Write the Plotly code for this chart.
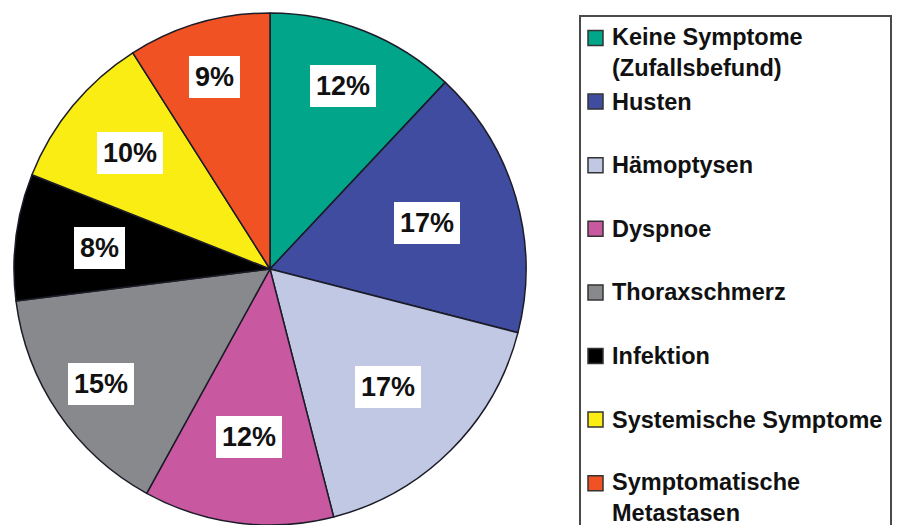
import math
import plotly.graph_objects as go

# ---- data ----
categories = [
    "Keine Symptome<br>(Zufallsbefund)",
    "Husten",
    "Hämoptysen",
    "Dyspnoe",
    "Thoraxschmerz",
    "Infektion",
    "Systemische Symptome",
    "Symptomatische<br>Metastasen",
]
values = [12, 17, 17, 12, 15, 8, 10, 9]
colors = ["#00a58a", "#3f4ca0", "#c0c8e4", "#c858a0", "#88898d", "#000000", "#faed14", "#f05224"]

# ---- styling / layout ----
W, H = 898, 525
label_rfrac = [0.77, 0.64, 0.65, 0.66, 0.80, 0.67, 0.71, 0.78]
FONT = "Liberation Sans, Arial, Helvetica, sans-serif"

# pie geometry in pixels
px0, px1 = 14, 526
py0, py1 = 13, 525
cx, cy = (px0 + px1) / 2, (py0 + py1) / 2
R = (px1 - px0) / 2

fig = go.Figure()
fig.add_trace(go.Pie(
    labels=categories,
    values=values,
    sort=False,
    direction="clockwise",
    rotation=0,
    textinfo="none",
    marker=dict(colors=colors, line=dict(color="#1c1c28", width=1.5)),
    showlegend=False,
    domain=dict(x=[px0 / W, px1 / W], y=[1 - py1 / H, 1 - py0 / H]),
    hoverinfo="label+percent",
))

annotations = []
shapes = []

# percentage labels in white boxes, positioned at slice mid-angles
total = sum(values)
cum = 0
for v, rf in zip(values, label_rfrac):
    mid = (cum + v / 2) / total * 2 * math.pi
    cum += v
    x = cx + rf * R * math.sin(mid)
    y = cy - rf * R * math.cos(mid)
    annotations.append(dict(
        x=x / W, y=1 - y / H, xref="paper", yref="paper",
        text=f"{round(v / total * 100)}%", showarrow=False,
        font=dict(family=FONT, size=27, color="#111111", weight="bold"),
        bgcolor="#ffffff", borderpad=6, borderwidth=0,
        xanchor="center", yanchor="middle",
    ))

# manual legend
shapes.append(dict(type="rect", xref="paper", yref="paper",
                   x0=580 / W, x1=891 / W, y0=-0.05, y1=1 - 16 / H,
                   line=dict(color="#4a4a4a", width=2), fillcolor="rgba(0,0,0,0)", layer="above"))
pitch = 63.6
first = 38
line_h = 29.5
for i, (lab, col) in enumerate(zip(categories, colors)):
    yc = first + pitch * i
    nlines = lab.count("<br>") + 1
    shapes.append(dict(type="rect", xref="paper", yref="paper",
                       x0=588 / W, x1=603 / W,
                       y0=1 - (yc + 7.5) / H, y1=1 - (yc - 7.5) / H,
                       fillcolor=col, line=dict(color="#333333", width=1.5), layer="above"))
    annotations.append(dict(
        x=610 / W, y=1 - (yc + (nlines - 1) * line_h / 2) / H,
        xref="paper", yref="paper", text=lab, showarrow=False,
        xanchor="left", yanchor="middle", align="left",
        font=dict(family=FONT, size=23.5, color="#111111", weight="bold"),
    ))

fig.update_layout(
    width=W, height=H,
    margin=dict(l=0, r=0, t=0, b=0),
    paper_bgcolor="#ffffff",
    plot_bgcolor="#ffffff",
    annotations=annotations,
    shapes=shapes,
)

fig.write_html("out.html", config={"displayModeBar": False},
               post_script="document.body.style.margin='0';document.body.style.overflow='hidden';")
